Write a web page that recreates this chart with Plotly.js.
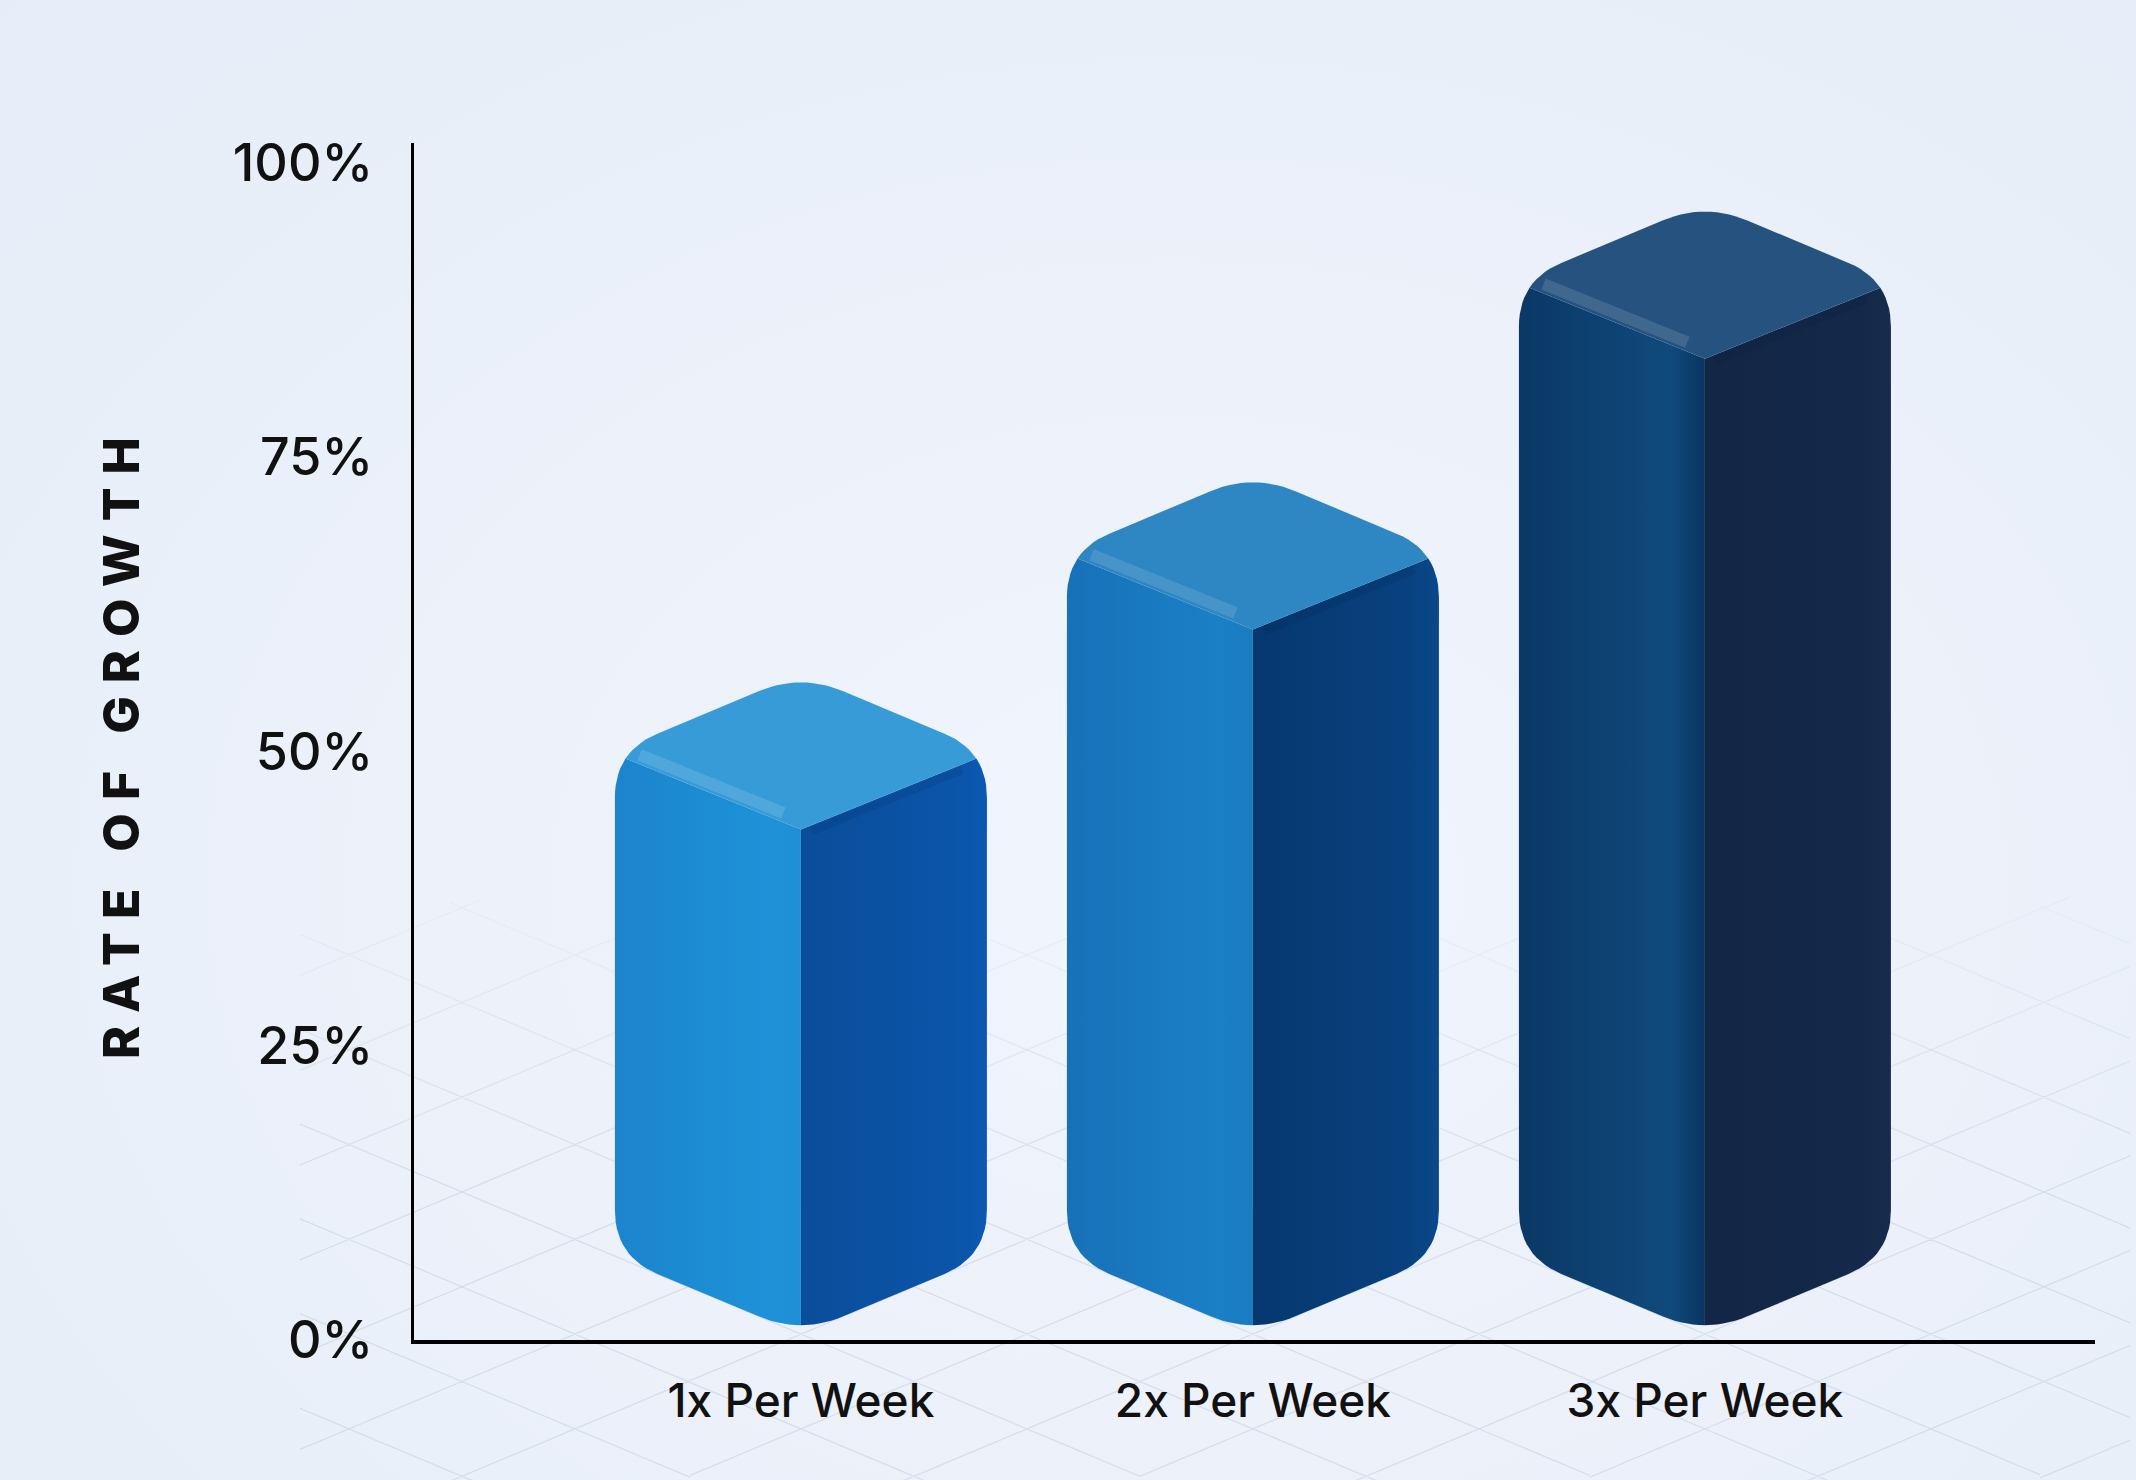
<!DOCTYPE html>
<html>
<head>
<meta charset="utf-8">
<script src="https://cdn.plot.ly/plotly-3.0.1.min.js"></script>
<style>
  html, body { margin: 0; padding: 0; }
  body {
    width: 2136px; height: 1480px; overflow: hidden;
    background: radial-gradient(ellipse at 55% 60%, #f1f5fc 0%, #ecf1fa 45%, #e6edf8 100%);
  }
  #chart { width: 2136px; height: 1480px; }
</style>
</head>
<body>
<div id="chart"></div>
<script>
// ---------------- data ----------------
const categories = ['1x Per Week', '2x Per Week', '3x Per Week'];
const values = [50, 67, 90];
const yTickVals = [0, 25, 50, 75, 100];
const yTickText = ['0%', '25%', '50%', '75%', '100%'];
const yTitle = 'RATE OF GROWTH';

// ---------------- styles ----------------
const leftFaceColors = [
  ['#1b84cd', '#1e92d8', '#1f8fd5'],
  ['#1771b9', '#1b80c6', '#1a7bc1'],
  ['#0b3866', '#0f4a7c', '#0a3462']
];
const rightFaceColors = [
  ['#0a4d9a', '#0b55a9', '#0c58b2'],
  ['#06386f', '#08417e', '#0a488a'],
  ['#132646', '#142849', '#172b4d']
];
const topFaceColors = ['#379bd8', '#2e86c3', '#26527f'];

// ---------------- layout geometry ----------------
const W = 2136, H = 1480;
const M = { l: 414, r: 41, t: 143, b: 140 };
const xRange = [-0.856, 2.863];
const yRange = [0, 101.7];
const pw = W - M.l - M.r, ph = H - M.t - M.b;
const kx = pw / (xRange[1] - xRange[0]);   // px per x unit
const ky = ph / (yRange[1] - yRange[0]);   // px per y unit
const halfWpx = 186, isoPx = 78, baseLift = 0.5, cornerPx = 46, arcN = 14;
const hw = halfWpx / kx, d = isoPx / ky;

function arc(Pp, P, Pn) {
  const a = [P[0] * kx, P[1] * ky], p = [Pp[0] * kx, Pp[1] * ky], n = [Pn[0] * kx, Pn[1] * ky];
  const u = [p[0] - a[0], p[1] - a[1]], v = [n[0] - a[0], n[1] - a[1]];
  const lu = Math.hypot(u[0], u[1]), lv = Math.hypot(v[0], v[1]);
  const s = [a[0] + u[0] / lu * cornerPx, a[1] + u[1] / lu * cornerPx];
  const e = [a[0] + v[0] / lv * cornerPx, a[1] + v[1] / lv * cornerPx];
  const pts = [];
  for (let k = 0; k <= arcN; k++) {
    const t = k / arcN;
    const x = (1 - t) * (1 - t) * s[0] + 2 * (1 - t) * t * a[0] + t * t * e[0];
    const y = (1 - t) * (1 - t) * s[1] + 2 * (1 - t) * t * a[1] + t * t * e[1];
    pts.push([x / kx, y / ky]);
  }
  return pts;
}

const traces = [];
function poly(pts, fillSpec) {
  const xs = pts.map(p => p[0]), ys = pts.map(p => p[1]);
  xs.push(xs[0]); ys.push(ys[0]);
  const t = {
    type: 'scatter', mode: 'lines', x: xs, y: ys, fill: 'toself',
    line: { width: 0, color: 'rgba(0,0,0,0)' }, hoverinfo: 'skip', showlegend: false
  };
  if (Array.isArray(fillSpec)) {
    t.fillcolor = fillSpec[1];
    t.fillgradient = { type: 'horizontal', colorscale: [[0, fillSpec[0]], [0.82, fillSpec[1]], [1, fillSpec[2]]] };
  } else {
    t.fillcolor = fillSpec;
  }
  traces.push(t);
}

values.forEach((v, i) => {
  const C = [
    [i - hw, baseLift + d], [i, baseLift], [i + hw, baseLift + d],
    [i + hw, v], [i, v + d], [i - hw, v]
  ];
  const F = [i, v - d];
  const A = C.map((c, k) => arc(C[(k + 5) % 6], c, C[(k + 1) % 6]));
  const h = arcN / 2;
  const left = [].concat(A[5].slice(h), A[0], A[1].slice(0, h + 1), [F]);
  const right = [].concat(A[1].slice(h), A[2], A[3].slice(0, h + 1), [F]);
  const top = [].concat(A[3].slice(h), A[4], A[5].slice(0, h + 1), [F]);
  poly(left, leftFaceColors[i]);
  poly(right, rightFaceColors[i]);
  poly(top, topFaceColors[i]);
  const m5 = A[5][h];
  const lerp = (p, q, t) => [p[0] + (q[0] - p[0]) * t, p[1] + (q[1] - p[1]) * t];
  const h1 = lerp(m5, F, 0.08), h2 = lerp(m5, F, 0.9);
  traces.push({
    type: 'scatter', mode: 'lines', x: [h1[0], h2[0]], y: [h1[1] + 0.8, h2[1] + 0.8],
    line: { width: 12, color: 'rgba(255,255,255,0.12)' }, hoverinfo: 'skip', showlegend: false
  });
  const m3 = A[3][h];
  const s1 = lerp(F, m3, 0.06), s2 = lerp(F, m3, 0.92);
  traces.push({
    type: 'scatter', mode: 'lines', x: [s1[0], s2[0]], y: [s1[1] - 0.5, s2[1] - 0.5],
    line: { width: 8, color: 'rgba(0,20,60,0.10)' }, hoverinfo: 'skip', showlegend: false
  });
});

// ---------------- decorative floor grid (paper coords) ----------------
const shapes = [];
(function () {
  const slope = isoPx / halfWpx;
  const x0 = M.l + (0 - xRange[0]) * kx;
  const spacing = kx / 2;
  const bands = 8, yTop = 900, yBot = 1480;
  const paths = Array.from({ length: bands }, () => '');
  const toP = (X, Y) => [((X - M.l) / pw).toFixed(5), ((H - M.b - Y) / ph).toFixed(5)];
  const yFront = H - M.b - baseLift * ky;
  for (const sgn of [1, -1]) {
    for (let k = -14; k <= 22; k++) {
      const Xc = x0 + k * spacing;
      for (let X = 300; X < W - 20; X += 30) {
        const X2 = X + 30;
        const Y1 = yFront + sgn * slope * (X - Xc), Y2 = yFront + sgn * slope * (X2 - Xc);
        const ym = (Y1 + Y2) / 2;
        if (ym < yTop || ym > yBot) continue;
        const bi = Math.min(bands - 1, Math.floor((ym - yTop) / ((1200 - yTop) / bands)));
        const a = toP(X, Y1), b = toP(X2, Y2);
        paths[bi] += 'M' + a[0] + ',' + a[1] + 'L' + b[0] + ',' + b[1];
      }
    }
  }
  paths.forEach((p, bi) => {
    if (!p) return;
    shapes.push({
      type: 'path', xref: 'paper', yref: 'paper', path: p, layer: 'below',
      line: { color: 'rgb(160,172,196)', width: 1.3 }, opacity: 0.04 + 0.22 * (bi + 1) / bands
    });
  });
})();

const layout = {
  width: W, height: H,
  margin: M,
  paper_bgcolor: 'rgba(0,0,0,0)',
  plot_bgcolor: 'rgba(0,0,0,0)',
  showlegend: false,
  shapes: shapes,
  xaxis: {
    range: xRange, fixedrange: true,
    tickmode: 'array', tickvals: categories.map((c, i) => i), ticktext: categories,
    showgrid: false, zeroline: false, ticks: '',
    showline: true, linecolor: '#000', linewidth: 3.5,
    ticklabelstandoff: 18,
    tickfont: { family: 'Inter, "Noto Sans", sans-serif', size: 46, color: '#111', weight: 500 }
  },
  yaxis: {
    range: yRange, fixedrange: true,
    tickmode: 'array', tickvals: yTickVals, ticktext: yTickText,
    showgrid: false, zeroline: false, ticks: '',
    showline: true, linecolor: '#000', linewidth: 3.5,
    ticklabelstandoff: 27,
    tickfont: { family: 'Inter, "Noto Sans", sans-serif', size: 52, color: '#111', weight: 500 },
    title: {
      text: yTitle, standoff: 78,
      font: { family: 'Inter, "DejaVu Sans", sans-serif', size: 50, color: '#111', weight: 800 }
    }
  }
};

Plotly.newPlot('chart', traces, layout, { staticPlot: true, displayModeBar: false }).then(() => {
  const t = document.querySelector('.g-ytitle text');
  if (t) t.style.letterSpacing = '13px';
});
</script>
</body>
</html>
